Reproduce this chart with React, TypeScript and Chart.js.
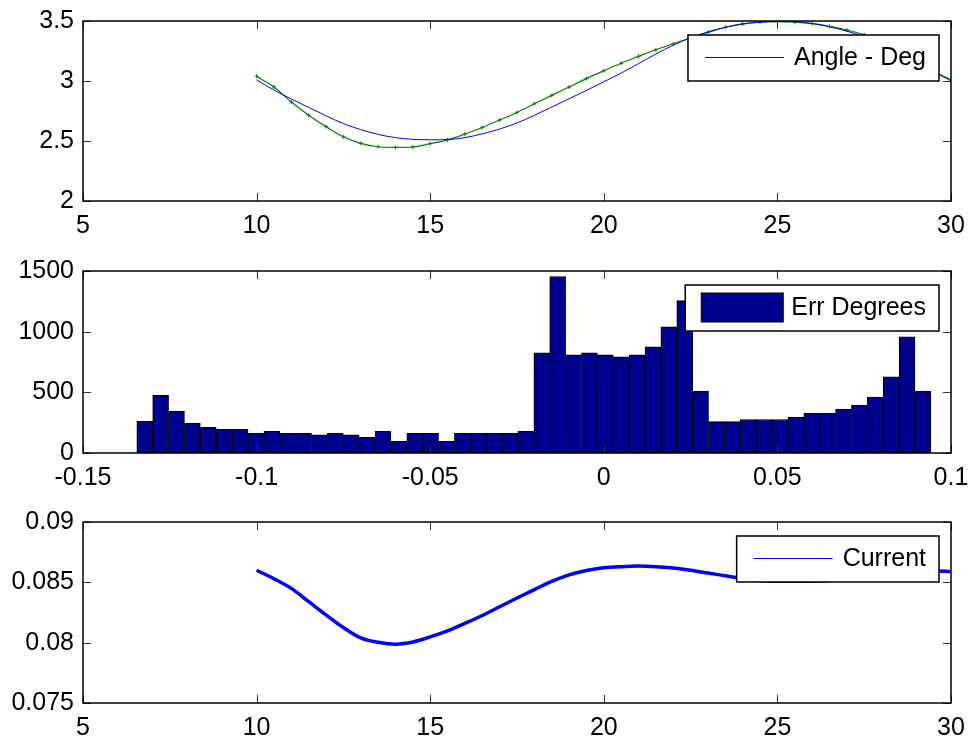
import React, { useEffect, useRef } from "react";
import { Chart, registerables } from "chart.js";

Chart.register(...registerables);

const FONT_FAMILY = '"Liberation Sans", Arial, Helvetica, sans-serif';
const FONT_SIZE = 25;

// ---------- Top subplot: angle ----------
const angleX = [
  10, 10.5, 11, 11.5, 12, 12.5, 13, 13.5, 14, 14.5, 15, 15.5, 16, 16.5, 17, 17.5, 18, 18.5, 19, 19.5,
  20, 20.5, 21, 21.5, 22, 22.5, 23, 23.5, 24, 24.5, 25, 25.5, 26, 26.5, 27, 27.5, 28, 28.5, 29, 29.5, 30,
];
const angleDeg = [
  3.01, 2.925, 2.85, 2.78, 2.71, 2.645, 2.595, 2.555, 2.528, 2.514, 2.51, 2.512, 2.528, 2.56, 2.6, 2.65, 2.714, 2.783, 2.852, 2.922,
  2.993, 3.066, 3.145, 3.225, 3.298, 3.36, 3.41, 3.447, 3.475, 3.49, 3.497, 3.495, 3.48, 3.452, 3.415, 3.37, 3.31, 3.24, 3.16, 3.08, 3.01,
];
const angleRef = [
  3.04, 2.95, 2.825, 2.715, 2.62, 2.535, 2.48, 2.452, 2.447, 2.45, 2.478, 2.51, 2.558, 2.612, 2.675, 2.738, 2.81, 2.88, 2.95, 3.02,
  3.085, 3.148, 3.205, 3.26, 3.31, 3.36, 3.405, 3.448, 3.476, 3.49, 3.494, 3.49, 3.478, 3.455, 3.425, 3.385, 3.33, 3.26, 3.17, 3.08, 3.0,
];
const angleXTicks = [5, 10, 15, 20, 25, 30];
const angleYTicks = [2, 2.5, 3, 3.5];

// ---------- Middle subplot: error histogram ----------
const errBinMin = -0.1345;
const errBinMax = 0.0942;
const errCounts = [
  262, 475, 345, 246, 212, 196, 196, 163, 179, 163,
  163, 149, 163, 149, 130, 179, 97, 163, 163, 97,
  163, 163, 163, 163, 179, 825, 1455, 809, 825, 809,
  792, 809, 875, 1040, 1256, 511, 259, 259, 276, 276,
  276, 295, 326, 326, 362, 395, 461, 627, 958, 511,
];
const errXTicks = [-0.15, -0.1, -0.05, 0, 0.05, 0.1];
const errYTicks = [0, 500, 1000, 1500];

// ---------- Bottom subplot: current ----------
const currentX = angleX;
const currentVals = [
  0.086, 0.0853, 0.0845, 0.0834, 0.0823, 0.08125, 0.0804, 0.08003, 0.07987, 0.08005,
  0.08048, 0.08098, 0.0816, 0.08225, 0.08298, 0.0837, 0.0844, 0.08508, 0.08562, 0.08598,
  0.0862, 0.0863, 0.08635, 0.0863, 0.08618, 0.086, 0.08577, 0.08555, 0.0853, 0.08515,
  0.08508, 0.08508, 0.0851, 0.08515, 0.08528, 0.08543, 0.0856, 0.08577, 0.0859, 0.08597, 0.0859,
];
const currentXTicks = [5, 10, 15, 20, 25, 30];
const currentYTicks = [0.075, 0.08, 0.085, 0.09];

const fmt = (v: number) => String(Math.round(v * 1e6) / 1e6);

const framePlugin = {
  id: "matlabFrame",
  afterDraw(chart: any, _args: any, opts: any) {
    const { ctx, chartArea: a, scales } = chart;
    ctx.save();
    const tl = 8;
    ctx.strokeStyle = "#333";
    ctx.lineWidth = 1;
    ctx.beginPath();
    for (const t of scales.x.ticks) {
      const px = Math.round(scales.x.getPixelForValue(t.value)) + 0.5;
      ctx.moveTo(px, a.bottom);
      ctx.lineTo(px, a.bottom - tl);
      ctx.moveTo(px, a.top);
      ctx.lineTo(px, a.top + tl);
    }
    for (const t of scales.y.ticks) {
      const py = Math.round(scales.y.getPixelForValue(t.value)) + 0.5;
      ctx.moveTo(a.left, py);
      ctx.lineTo(a.left + tl, py);
      ctx.moveTo(a.right, py);
      ctx.lineTo(a.right - tl, py);
    }
    ctx.stroke();
    ctx.strokeStyle = "#000";
    ctx.lineWidth = 1.5;
    ctx.strokeRect(a.left, a.top, a.right - a.left, a.bottom - a.top);

    const lg = opts && opts.legend;
    if (lg) {
      ctx.font = `${FONT_SIZE}px ${FONT_FAMILY}`;
      const tw = ctx.measureText(lg.label).width;
      const h = 46;
      const w = 106 + tw + 13;
      const right = a.right - 12;
      const left = right - w;
      const top = a.top + 14;
      ctx.fillStyle = "#fff";
      ctx.fillRect(left, top, w, h);
      ctx.strokeStyle = "#000";
      ctx.lineWidth = 1.5;
      ctx.strokeRect(left, top, w, h);
      const cy = top + h / 2 - 1;
      if (lg.kind === "patch") {
        ctx.fillStyle = lg.color;
        ctx.fillRect(left + 16, top + 8, 82, 29);
        ctx.strokeStyle = "#000";
        ctx.lineWidth = 1;
        ctx.strokeRect(left + 16, top + 8, 82, 29);
      } else {
        ctx.strokeStyle = lg.color;
        ctx.lineWidth = 1;
        ctx.beginPath();
        ctx.moveTo(left + 17, Math.round(cy) + 0.5);
        ctx.lineTo(left + 96, Math.round(cy) + 0.5);
        ctx.stroke();
      }
      ctx.fillStyle = "#000";
      ctx.textAlign = "left";
      ctx.textBaseline = "middle";
      ctx.fillText(lg.label, left + 106, cy + 1);
    }
    ctx.restore();
  },
};

function axisOptions(min: number, max: number, ticks: number[], isX: boolean, fixedSize: number) {
  return {
    type: "linear",
    min,
    max,
    offset: false,
    grid: { display: false, drawTicks: false },
    border: { display: false },
    ticks: {
      autoSkip: false,
      maxRotation: 0,
      minRotation: 0,
      padding: isX ? 10 : 9,
      color: "#000",
      font: { family: FONT_FAMILY, size: FONT_SIZE },
      callback: (v: any) => fmt(Number(v)),
    },
    afterBuildTicks: (s: any) => {
      s.ticks = ticks.map((v) => ({ value: v }));
    },
    afterFit: (s: any) => {
      if (isX) {
        s.height = fixedSize;
        s.paddingLeft = 0;
        s.paddingRight = 0;
      } else {
        s.width = fixedSize;
        s.paddingTop = 0;
        s.paddingBottom = 0;
      }
    },
  };
}

function useChart(ref: React.RefObject<HTMLCanvasElement | null>, makeConfig: () => any) {
  useEffect(() => {
    if (!ref.current) return;
    const chart = new Chart(ref.current, makeConfig());
    return () => chart.destroy();
  }, []);
}

const W = 969;
const AREA_LEFT = 83;
const AREA_RIGHT = 951;

export default function App() {
  const c1 = useRef<HTMLCanvasElement>(null);
  const c2 = useRef<HTMLCanvasElement>(null);
  const c3 = useRef<HTMLCanvasElement>(null);

  useChart(c1, () => ({
    type: "line",
    data: {
      datasets: [
        {
          label: "Angle - Deg",
          data: angleX.map((x, i) => ({ x, y: angleDeg[i] })),
          borderColor: "#0000FF",
          borderWidth: 1,
          pointRadius: 0,
          cubicInterpolationMode: "monotone",
        },
        {
          label: "Reference",
          data: angleX.map((x, i) => ({ x, y: angleRef[i] })),
          borderColor: "#008000",
          borderWidth: 1.2,
          pointStyle: "cross",
          pointRadius: 2,
          pointBorderColor: "#008000",
          pointBorderWidth: 1,
          cubicInterpolationMode: "monotone",
        },
      ],
    },
    options: {
      responsive: false,
      animation: false,
      devicePixelRatio: 1,
      layout: { padding: { top: 21, right: W - AREA_RIGHT, left: 0, bottom: 0 } },
      plugins: {
        legend: { display: false },
        tooltip: { enabled: false },
        matlabFrame: { legend: { label: "Angle - Deg", kind: "line", color: "#0000FF" } },
      },
      scales: {
        x: axisOptions(5, 30, angleXTicks, true, 240 - 201),
        y: axisOptions(2, 3.5, angleYTicks, false, AREA_LEFT),
      },
    },
    plugins: [framePlugin],
  }));

  useChart(c2, () => {
    const binW = (errBinMax - errBinMin) / errCounts.length;
    return {
      type: "bar",
      data: {
        datasets: [
          {
            label: "Err Degrees",
            data: errCounts.map((c, i) => ({ x: errBinMin + binW * (i + 0.5), y: c })),
            backgroundColor: "#00008F",
            borderColor: "#000",
            borderWidth: 1,
            borderSkipped: false,
            barPercentage: 1,
            categoryPercentage: 1,
          },
        ],
      },
      options: {
        responsive: false,
        animation: false,
        devicePixelRatio: 1,
        layout: { padding: { top: 31, right: W - AREA_RIGHT, left: 0, bottom: 0 } },
        plugins: {
          legend: { display: false },
          tooltip: { enabled: false },
          matlabFrame: { legend: { label: "Err Degrees", kind: "patch", color: "#00008F" } },
        },
        scales: {
          x: axisOptions(-0.15, 0.1, errXTicks, true, 250 - 213),
          y: axisOptions(0, 1500, errYTicks, false, AREA_LEFT),
        },
      },
      plugins: [framePlugin],
    };
  });

  useChart(c3, () => ({
    type: "line",
    data: {
      datasets: [
        {
          label: "Current",
          data: currentX.map((x, i) => ({ x, y: currentVals[i] })),
          borderColor: "#0000FF",
          borderWidth: 3.5,
          pointRadius: 0,
          cubicInterpolationMode: "monotone",
        },
      ],
    },
    options: {
      responsive: false,
      animation: false,
      devicePixelRatio: 1,
      layout: { padding: { top: 32, right: W - AREA_RIGHT, left: 0, bottom: 0 } },
      plugins: {
        legend: { display: false },
        tooltip: { enabled: false },
        matlabFrame: { legend: { label: "Current", kind: "line", color: "#0000FF" } },
      },
      scales: {
        x: axisOptions(5, 30, currentXTicks, true, 249 - 213),
        y: axisOptions(0.075, 0.09, currentYTicks, false, AREA_LEFT),
      },
    },
    plugins: [framePlugin],
  }));

  const abs = (top: number, h: number): React.CSSProperties => ({
    position: "absolute",
    left: 0,
    top,
    width: W,
    height: h,
  });

  return (
    <div style={{ position: "absolute", left: 0, top: 0, width: W, height: 739, background: "#fff", overflow: "hidden" }}>
      <canvas ref={c1} width={W} height={240} style={abs(0, 240)} />
      <canvas ref={c2} width={W} height={250} style={abs(240, 250)} />
      <canvas ref={c3} width={W} height={249} style={abs(490, 249)} />
    </div>
  );
}
